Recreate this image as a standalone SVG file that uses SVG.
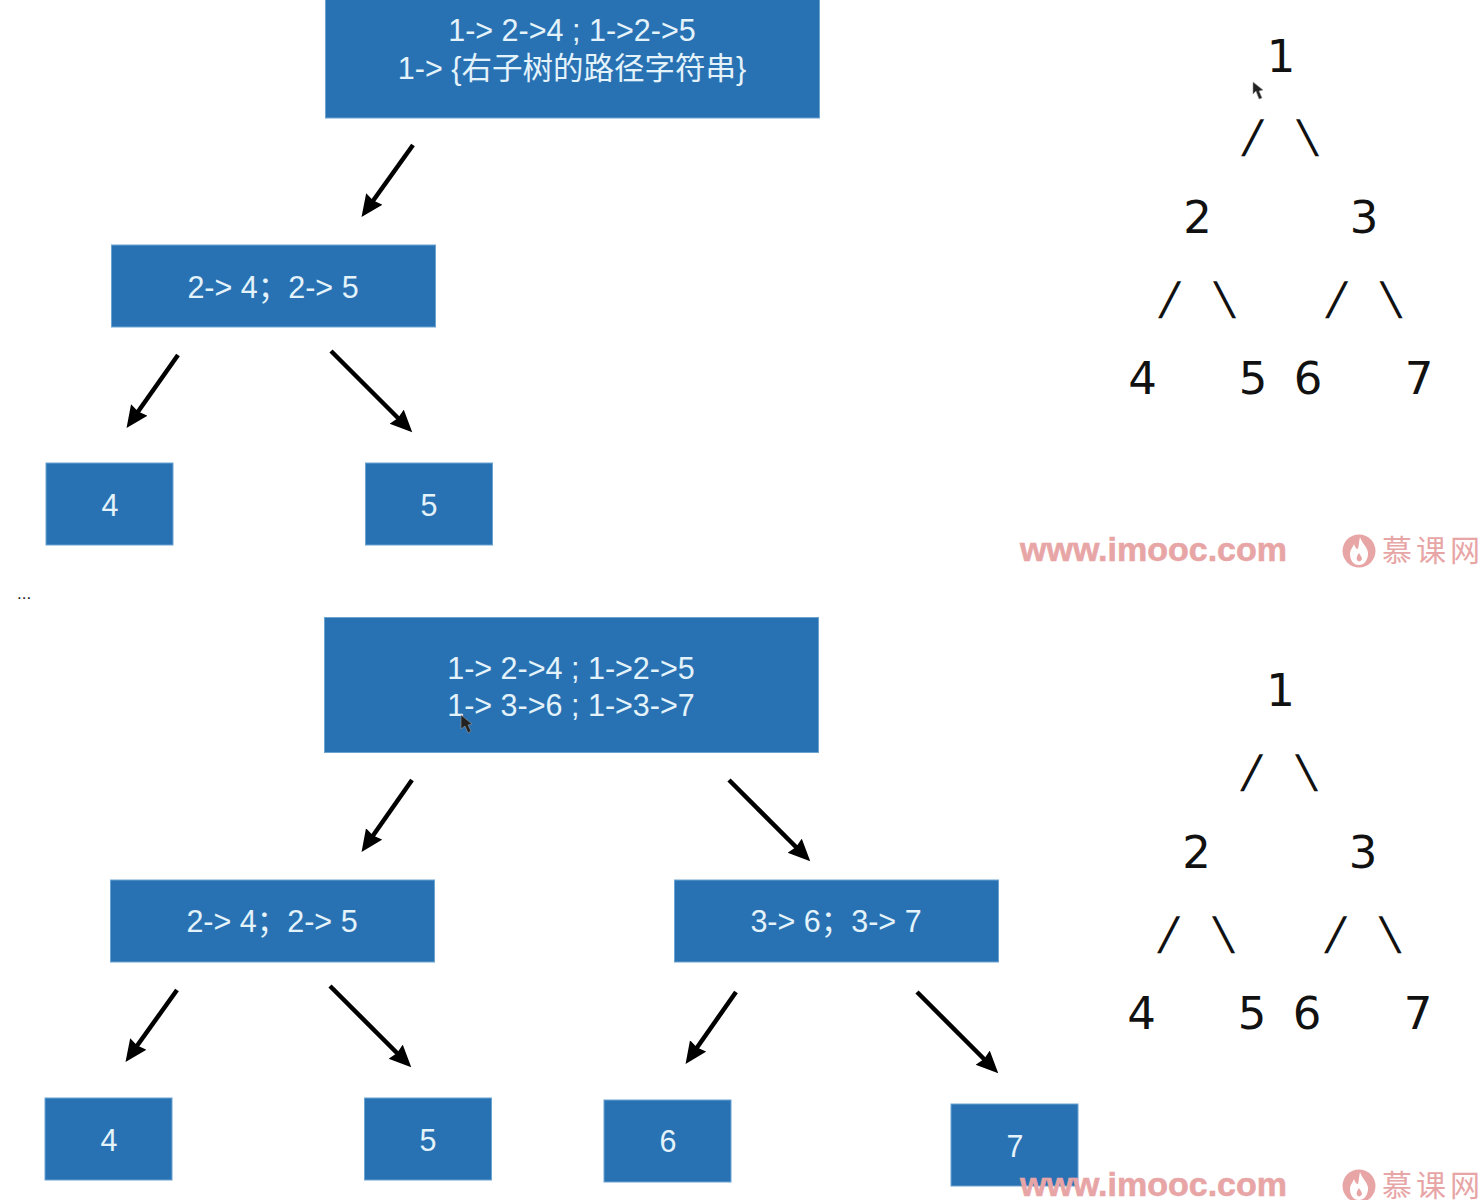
<svg xmlns="http://www.w3.org/2000/svg" width="1482" height="1200" viewBox="0 0 1482 1200">
<style>
.b{fill:#2872b4;stroke:#6ba3d1;stroke-width:1}
.t{font-family:"Liberation Sans","Noto Sans CJK SC",sans-serif;font-size:30.500px;fill:#e4f3fa;text-anchor:middle}
.n{font-family:"DejaVu Sans",sans-serif;font-size:45px;fill:#111;text-anchor:middle}
.a{stroke:#000;stroke-width:4.500;fill:none;marker-end:url(#h)}
.w{font-family:"Liberation Sans",sans-serif;font-weight:700;font-size:34px;fill:#e8a5a6;stroke:#e8a5a6;stroke-width:.6}
.c{font-family:"Noto Sans CJK SC",sans-serif;font-size:30px;letter-spacing:4px;fill:#e8a5a6}
.m{fill:#222;stroke:#999;stroke-width:.6}
</style>
<defs>
<marker id="h" markerUnits="userSpaceOnUse" markerWidth="30" markerHeight="30" refX="16" refY="10" orient="auto"><path d="M0,0 L22,10 L0,20 L2,10Z" fill="#000"/></marker>
<g id="logo"><circle r="16.500" fill="#e8a5a6"/><path d="M1,-14C3,-7 10,-3 9,4C8,11 4,14 0,14C-6,14 -9,9 -9,3C-9,-1 -6,-4 -5,-7C-4,-4 -3,-2 -1,-2C0,-6 0,-10 1,-14ZM0,2C-2,5 -3,7 -2,9C-1,11 2,11 3,8C3,6 1,4 0,2Z" fill="#fff" fill-rule="evenodd"/></g>
</defs>
<rect width="1482" height="1200" fill="#fff"/>
<g id="connectors">
<line class="a" x1="413" y1="145" x2="365" y2="212"/>
<line class="a" x1="178" y1="355" x2="130" y2="423"/>
<line class="a" x1="331" y1="351" x2="408" y2="428"/>
<line class="a" x1="412" y1="780" x2="365" y2="847"/>
<line class="a" x1="729" y1="780" x2="806" y2="857"/>
<line class="a" x1="177" y1="990" x2="129" y2="1057"/>
<line class="a" x1="330" y1="986" x2="407" y2="1063"/>
<line class="a" x1="736" y1="992" x2="689" y2="1059"/>
<line class="a" x1="917" y1="992" x2="994" y2="1069"/>
</g>
<g id="n-top1"><rect class="b" x="325.500" y="-5" width="494" height="123"/><text class="t" x="572" y="41">1-&gt; 2-&gt;4 ; 1-&gt;2-&gt;5</text><text class="t" x="572" y="79">1-&gt; {右子树的路径字符串}</text></g>
<g id="n-top2"><rect class="b" x="111.500" y="245" width="324" height="82"/><text class="t" x="273" y="298">2-&gt; 4；2-&gt; 5</text></g>
<g id="n-top4"><rect class="b" x="46" y="463" width="127" height="82"/><text class="t" x="110" y="516">4</text></g>
<g id="n-top5"><rect class="b" x="365.500" y="463" width="127" height="82"/><text class="t" x="429" y="516">5</text></g>
<g id="n-bot1"><rect class="b" x="324.500" y="617.500" width="494" height="135"/><text class="t" x="571" y="679">1-&gt; 2-&gt;4 ; 1-&gt;2-&gt;5</text><text class="t" x="571" y="716">1-&gt; 3-&gt;6 ; 1-&gt;3-&gt;7</text></g>
<g id="n-bot2"><rect class="b" x="110.500" y="880" width="324" height="82"/><text class="t" x="272" y="932">2-&gt; 4；2-&gt; 5</text></g>
<g id="n-bot3"><rect class="b" x="674.500" y="880" width="324" height="82"/><text class="t" x="836" y="932">3-&gt; 6；3-&gt; 7</text></g>
<g id="n-bot4"><rect class="b" x="45" y="1098" width="127" height="82"/><text class="t" x="109" y="1151">4</text></g>
<g id="n-bot5"><rect class="b" x="364.500" y="1098" width="127" height="82"/><text class="t" x="428" y="1151">5</text></g>
<g id="n-bot6"><rect class="b" x="604" y="1100" width="127" height="82"/><text class="t" x="668" y="1152">6</text></g>
<g id="n-bot7"><rect class="b" x="951" y="1104" width="127" height="82"/><text class="t" x="1015" y="1157">7</text></g>
<g id="tree-top">
<text class="n" x="1281" y="72">1</text>
<text class="n" transform="translate(1249.500,152) skewX(-12)">/</text><text class="n" transform="translate(1310.500,152) skewX(12)">\</text>
<text class="n" x="1197.500" y="233">2</text><text class="n" x="1364" y="233">3</text>
<text class="n" transform="translate(1166.500,314) skewX(-12)">/</text><text class="n" transform="translate(1227.500,314) skewX(12)">\</text><text class="n" transform="translate(1333.500,314) skewX(-12)">/</text><text class="n" transform="translate(1394,314) skewX(12)">\</text>
<text class="n" x="1142.500" y="394">4</text><text class="n" x="1253" y="394">5</text><text class="n" x="1308" y="394">6</text><text class="n" x="1419" y="394">7</text>
</g>
<g id="tree-bottom">
<text class="n" x="1280.500" y="706">1</text>
<text class="n" transform="translate(1248.500,787) skewX(-12)">/</text><text class="n" transform="translate(1309.500,787) skewX(12)">\</text>
<text class="n" x="1196.500" y="868">2</text><text class="n" x="1363" y="868">3</text>
<text class="n" transform="translate(1165.500,949) skewX(-12)">/</text><text class="n" transform="translate(1226.500,949) skewX(12)">\</text><text class="n" transform="translate(1332.500,949) skewX(-12)">/</text><text class="n" transform="translate(1393,949) skewX(12)">\</text>
<text class="n" x="1141.500" y="1029">4</text><text class="n" x="1252" y="1029">5</text><text class="n" x="1307" y="1029">6</text><text class="n" x="1418" y="1029">7</text>
</g>
<text x="17" y="599" font-family="Liberation Sans, sans-serif" font-size="17" fill="#222">...</text>
<path class="m" d="M1253,83 L1253,95 L1256,92 L1259,100 L1262,99 L1259,92 L1263,91Z" transform="translate(0,-1)"/>
<path class="m" d="M461,715 L461,729 L465,726 L468,733 L471,731 L468,725 L472,724Z"/>
<g id="watermark-top">
<text class="w" x="1020" y="561">www.imooc.com</text>
<use href="#logo" x="1359" y="551"/>
<text class="c" x="1382" y="561">慕课网</text>
</g>
<g id="watermark-bottom">
<text class="w" x="1020" y="1196">www.imooc.com</text>
<use href="#logo" x="1359" y="1186"/>
<text class="c" x="1382" y="1196">慕课网</text>
</g>
</svg>
